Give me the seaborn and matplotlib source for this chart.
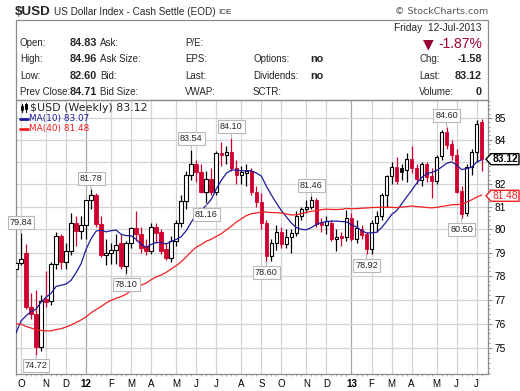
import numpy as np
import pandas as pd
import matplotlib
matplotlib.use("Agg")
import matplotlib.pyplot as plt
import seaborn as sns
from matplotlib.patches import Rectangle, Polygon
from matplotlib.lines import Line2D
from matplotlib.ticker import FixedLocator, NullFormatter

# ---------------- data ----------------
symbol = "$USD"
title = "US Dollar Index - Cash Settle (EOD)"
exchange = "ICE"
first_week = "2011-09-26"

opens = [78.30, 78.57, 79.00, 76.70, 76.40, 75.05, 77.05, 76.96, 78.50, 79.72,
         78.60, 79.05, 80.30, 79.94, 80.20, 81.28, 81.53, 80.26, 78.88, 78.97,
         79.10, 79.43, 78.43, 79.43, 80.07, 79.79, 79.30, 79.06, 80.10, 79.90,
         79.15, 78.75, 79.50, 80.30, 81.26, 82.42, 82.90, 82.55, 81.66, 82.24,
         81.64, 83.38, 83.33, 83.45, 82.73, 82.42, 82.50, 82.60, 81.64, 81.20,
         80.30, 78.85, 79.43, 79.90, 79.36, 79.67, 79.85, 80.60, 80.90, 81.00,
         81.30, 80.30, 80.20, 80.30, 79.57, 79.72, 79.67, 80.50, 79.57, 80.00,
         79.79, 79.17, 80.30, 80.58, 81.53, 82.35, 82.77, 82.70, 82.64, 83.13,
         82.73, 82.20, 82.90, 82.35, 82.15, 83.25, 84.34, 83.80, 83.30, 81.70,
         80.70, 82.75, 83.45, 84.83]
highs = [78.70, 79.84, 79.36, 77.30, 77.40, 77.20, 78.20, 78.60, 79.90, 79.80,
         79.40, 80.70, 80.60, 80.60, 81.30, 81.78, 81.60, 80.60, 79.60, 79.40,
         79.80, 79.80, 79.50, 80.10, 80.80, 80.10, 79.60, 80.30, 80.30, 80.00,
         79.40, 79.70, 80.40, 81.50, 82.60, 83.54, 83.10, 82.90, 82.60, 82.70,
         83.50, 83.90, 83.70, 84.10, 83.10, 82.80, 82.90, 82.70, 81.90, 81.60,
         80.40, 79.60, 80.20, 80.10, 80.00, 80.00, 80.80, 81.00, 81.30, 81.46,
         81.40, 80.50, 80.60, 80.40, 80.00, 79.90, 80.87, 80.70, 80.40, 80.20,
         79.90, 80.40, 80.80, 81.60, 82.40, 83.00, 83.20, 82.90, 83.40, 83.70,
         82.90, 83.00, 83.00, 82.70, 83.30, 84.45, 84.60, 84.00, 83.60, 81.90,
         82.90, 83.60, 84.90, 84.96]
lows = [77.90, 78.45, 76.62, 76.20, 74.72, 74.90, 76.70, 76.80, 78.30, 78.30,
        78.30, 78.90, 79.30, 79.60, 79.60, 80.90, 80.10, 78.80, 78.45, 78.50,
        78.50, 78.30, 78.10, 79.20, 79.50, 79.00, 78.90, 78.95, 79.40, 78.95,
        78.70, 78.60, 79.30, 80.10, 80.90, 82.20, 82.10, 81.60, 81.16, 81.50,
        81.50, 82.80, 82.90, 82.60, 82.00, 82.00, 81.90, 81.50, 81.00, 80.00,
        78.60, 78.65, 79.10, 79.20, 79.20, 79.00, 79.70, 80.40, 80.70, 80.90,
        80.10, 79.90, 79.80, 79.50, 79.05, 79.30, 79.50, 79.50, 79.40, 79.60,
        78.92, 78.95, 79.90, 80.40, 81.00, 82.00, 82.00, 82.20, 82.10, 82.50,
        82.00, 81.90, 82.10, 81.40, 82.00, 83.10, 83.60, 83.10, 81.60, 80.50,
        80.60, 82.40, 83.00, 82.60]
closes = [78.55, 78.72, 76.70, 76.40, 75.05, 76.96, 76.90, 78.50, 79.72, 78.60,
          79.05, 80.30, 79.94, 80.20, 81.28, 81.50, 80.22, 78.88, 79.00, 79.10,
          79.33, 78.43, 79.43, 80.07, 79.79, 79.21, 79.05, 80.10, 79.85, 79.06,
          78.75, 79.50, 80.30, 81.26, 82.42, 82.90, 82.55, 81.66, 82.24, 81.64,
          83.38, 83.33, 83.45, 82.73, 82.42, 82.55, 82.60, 81.64, 81.20, 80.30,
          78.85, 79.43, 79.90, 79.36, 79.67, 79.85, 80.60, 80.90, 81.00, 81.30,
          80.22, 80.20, 80.35, 79.57, 79.67, 79.65, 80.50, 79.57, 80.07, 79.75,
          79.14, 80.30, 80.58, 81.53, 82.35, 82.77, 82.13, 82.55, 83.13, 82.73,
          82.24, 82.90, 82.30, 82.13, 83.20, 84.34, 83.75, 83.30, 81.66, 80.66,
          82.75, 83.45, 84.71, 83.12]
# weekly closes before the first visible bar (moving-average warm-up)
pre_closes = [79.0, 80.6, 79.0, 78.0, 77.9, 77.9, 78.4, 77.5, 77.1, 76.4,
              76.9, 75.8, 76.0, 76.0, 74.8, 74.9, 73.9, 73.0, 74.7, 75.8,
              75.6, 75.4, 73.9, 74.8, 75.1, 75.7, 74.3, 75.2, 75.8, 74.2,
              73.7, 74.6, 74.6, 74.1, 74.0, 74.8, 76.9, 76.8, 78.1]

high_label_idx = [1, 15, 35, 43, 59, 86]
low_label_idx = [4, 22, 38, 50, 70, 89]

ma_periods = [10, 40]
ma_values_text = ["83.07", "81.48"]
last_text = "83.12"

y_ticks = [75, 76, 77, 78, 79, 80, 81, 82, 83, 84, 85]

header_date = "Friday  12-Jul-2013"
header_pct = "-1.87%"
rows_left = [("Open:", "84.83", "Ask:", "P/E:", "", ""),
             ("High:", "84.96", "Ask Size:", "EPS:", "Options:", "no"),
             ("Low:", "82.60", "Bid:", "Last:", "Dividends:", "no"),
             ("Prev Close:", "84.71", "Bid Size:", "VWAP:", "SCTR:", "")]
rows_right = [("", ""), ("Chg:", "-1.58"), ("Last:", "83.12"), ("Volume:", "0")]

# ---------------- derived ----------------
n = len(closes)
idx = np.arange(n)
dates = pd.date_range(first_week, periods=n, freq="7D")
all_closes = pd.Series(pre_closes + closes)
mas = [all_closes.rolling(p).mean().to_numpy()[len(pre_closes):] for p in ma_periods]
prev_close = np.array([pre_closes[-1]] + closes[:-1])
o = np.array(opens); c = np.array(closes); h = np.array(highs); l = np.array(lows)

# ---------------- style ----------------
sns.set_theme(style="white")
plt.rcParams["font.family"] = ["Liberation Sans", "DejaVu Sans"]
W, H = 520, 391
fig = plt.figure(figsize=(W / 100, H / 100), dpi=100)
fig.patch.set_facecolor("white")

RED = "#d0002f"
GRID = "#d4d4d4"
FRAME = "#8c8c8c"
BLUE = "#1c1c9c"
MA40C = "#f02020"

ax = fig.add_axes([16 / W, 1 - 374 / H, (488 - 16) / W, (374 - 100) / H])
ax.set_yscale("log")
ax.set_ylim(73.95, 85.84)
ax.set_xlim(0, 94.26)

# month ticks
month_pos, month_lab, year_pos = [], [], []
for i in range(1, n):
    if dates[i].month != dates[i - 1].month:
        month_pos.append(i)
        if dates[i].month == 1:
            month_lab.append(dates[i].strftime("%y"))
            year_pos.append(i)
        else:
            month_lab.append(dates[i].strftime("%b")[0])

for p in month_pos:
    ax.axvline(p, color="#a8a8a8" if p in year_pos else GRID, lw=0.9, zorder=0)
for v in y_ticks:
    ax.axhline(v, color=GRID, lw=0.9, zorder=0)

# candles
up_body = c >= o
color = np.where(c < prev_close, RED, "black")
bw = 0.72
for i in idx:
    ax.vlines(i, l[i], h[i], color=color[i], lw=0.9, zorder=2)
    bot, top = min(o[i], c[i]), max(o[i], c[i])
    if top - bot < 0.03:
        top = bot + 0.03
    if up_body[i]:
        ax.bar(i, top - bot, bottom=bot, width=bw, facecolor="white",
               edgecolor=color[i], linewidth=0.8, zorder=3)
    else:
        ax.bar(i, top - bot, bottom=bot, width=bw, facecolor=color[i],
               edgecolor=color[i], linewidth=0.6, zorder=3)

# moving averages through seaborn
sns.lineplot(x=idx, y=mas[0], ax=ax, color=BLUE, linewidth=0.9, zorder=4, legend=False)
sns.lineplot(x=idx, y=mas[1], ax=ax, color=MA40C, linewidth=0.9, zorder=4, legend=False)

# axes formatting
tag_values = [closes[-1], float(ma_values_text[1])]
ax.yaxis.tick_right()
ax.yaxis.set_major_locator(FixedLocator(y_ticks))
ax.yaxis.set_minor_locator(FixedLocator([v / 5 for v in range(370, 430)]))
ax.yaxis.set_minor_formatter(NullFormatter())
# tick labels hidden behind the value tags on the right are left blank
ylab = []
for v in y_ticks:
    covered = any(abs(np.log(v / t)) * 1837.6 < 6 for t in tag_values)
    ylab.append("" if covered else str(v))
ax.set_yticklabels(ylab)
ax.tick_params(axis="y", which="major", length=3, width=0.8, color=FRAME, pad=1.5,
               labelsize=7.3, labelcolor="black", right=True, left=False)
ax.tick_params(axis="y", which="minor", length=1.5, width=0.6, color=FRAME, right=True, left=False)
ax.xaxis.set_major_locator(FixedLocator(month_pos))
ax.xaxis.set_minor_locator(FixedLocator(list(idx)))
ax.set_xticklabels(month_lab)
for t, p in zip(ax.get_xticklabels(), month_pos):
    if p in year_pos:
        t.set_fontweight("bold")
ax.tick_params(axis="x", which="major", length=0, pad=3.5, labelsize=7, labelcolor="black", bottom=True)
ax.tick_params(axis="x", which="minor", length=1.5, width=0.5, color=FRAME, bottom=True)
ax.set_xlabel(""); ax.set_ylabel("")
for s in ax.spines.values():
    s.set_color(FRAME); s.set_linewidth(0.9)
ax.grid(False)

# high/low labels
bbox = dict(boxstyle="square,pad=0.22", fc="white", ec="#b8b8b8", lw=0.8)
for i in high_label_idx:
    ax.annotate(f"{highs[i]:.2f}", xy=(i, highs[i]), xytext=(0, 11), textcoords="offset pixels",
                ha="center", va="center", fontsize=6.6, bbox=bbox, zorder=6,
                arrowprops=dict(arrowstyle="-", color="#b8b8b8", lw=0.8, shrinkA=0, shrinkB=0))
for i in low_label_idx:
    ax.annotate(f"{lows[i]:.2f}", xy=(i, lows[i]), xytext=(0, -11), textcoords="offset pixels",
                ha="center", va="center", fontsize=6.6, bbox=bbox, zorder=6,
                arrowprops=dict(arrowstyle="-", color="#b8b8b8", lw=0.8, shrinkA=0, shrinkB=0))

# ---------------- figure-level text ----------------
def ftext(x, y, s, **kw):
    kw.setdefault("va", "center")
    fig.text(x / W, 1 - y / H, s, **kw)

ftext(15, 12, symbol, fontsize=9.6, fontweight="bold")
ftext(54, 12, title, fontsize=7.2)
ftext(218, 12.5, exchange, fontsize=5.8)
ftext(488, 12, "\u00a9 StockCharts.com", fontsize=6.8, color="#555555", ha="right",
      family=["DejaVu Sans"])

fig.patches.append(Rectangle((16 / W, 1 - 100 / H), (488 - 16) / W, 80 / H,
                             transform=fig.transFigure, fill=False, ec=FRAME, lw=0.9))
ftext(482, 28, header_date, fontsize=7.3, ha="right")
ftext(438, 44, header_pct, fontsize=10, color="#990033", ha="left")
ftext(428, 44, "\u25bc", fontsize=10, color="#990033", ha="center", family=["DejaVu Sans"])
row_y = [43, 59.5, 76, 92]
for y, (a, av, b, cc, d, dv) in zip(row_y, rows_left):
    ftext(20, y, a, fontsize=7)
    ftext(97, y, av, fontsize=7.8, fontweight="bold", ha="right")
    ftext(100, y, b, fontsize=7)
    ftext(185, y, cc, fontsize=7)
    if d:
        ftext(253, y, d, fontsize=7)
    if dv:
        ftext(310, y, dv, fontsize=7.8, fontweight="bold")
for y, (a, av) in zip(row_y, rows_right):
    if a:
        ftext(419, y, a, fontsize=7)
        ftext(482, y, av, fontsize=7.8, fontweight="bold", ha="right")

# chart legend
fig.add_artist(Line2D([21.5 / W, 21.5 / W], [1 - 104 / H, 1 - 112 / H], color="black", lw=0.8))
fig.patches.append(Rectangle((20.5 / W, 1 - 110 / H), 2 / W, 4 / H, transform=fig.transFigure,
                             fc="black", ec="black", lw=0.5))
fig.add_artist(Line2D([25.5 / W, 25.5 / W], [1 - 103 / H, 1 - 112 / H], color="black", lw=0.8))
fig.patches.append(Rectangle((24.5 / W, 1 - 109 / H), 2 / W, 5 / H, transform=fig.transFigure,
                             fc="white", ec="black", lw=0.7))
ftext(30, 108, f"{symbol} (Weekly) {last_text}", fontsize=7.9, family=["DejaVu Sans"])
for y, col, p, txt in [(118.5, BLUE, ma_periods[0], ma_values_text[0]),
                       (129, MA40C, ma_periods[1], ma_values_text[1])]:
    fig.add_artist(Line2D([20 / W, 28 / W], [1 - y / H, 1 - y / H], color=col, lw=2))
    ftext(29, y, f"MA({p}) {txt}", fontsize=6.4, color=col, family=["DejaVu Sans"])

# right-side value tags
fig.canvas.draw()
def tag(value, ec, text_kw):
    yd = ax.transData.transform((0, value))[1]
    yp = H - yd
    pts = [(486, yp), (491, yp - 5.5), (519, yp - 5.5), (519, yp + 5.5), (491, yp + 5.5)]
    fig.patches.append(Polygon([(x / W, 1 - y / H) for x, y in pts], closed=True,
                               transform=fig.transFigure, fc="white", ec=ec, lw=1.0, zorder=5))
    ftext(505, yp, f"{value:.2f}", ha="center", zorder=6, **text_kw)

tag(tag_values[0], "black", dict(fontsize=7.4, fontweight="bold", color="black"))
tag(tag_values[1], MA40C, dict(fontsize=7.4, color=MA40C))

fig.savefig("out.png", dpi=100, facecolor="white")
